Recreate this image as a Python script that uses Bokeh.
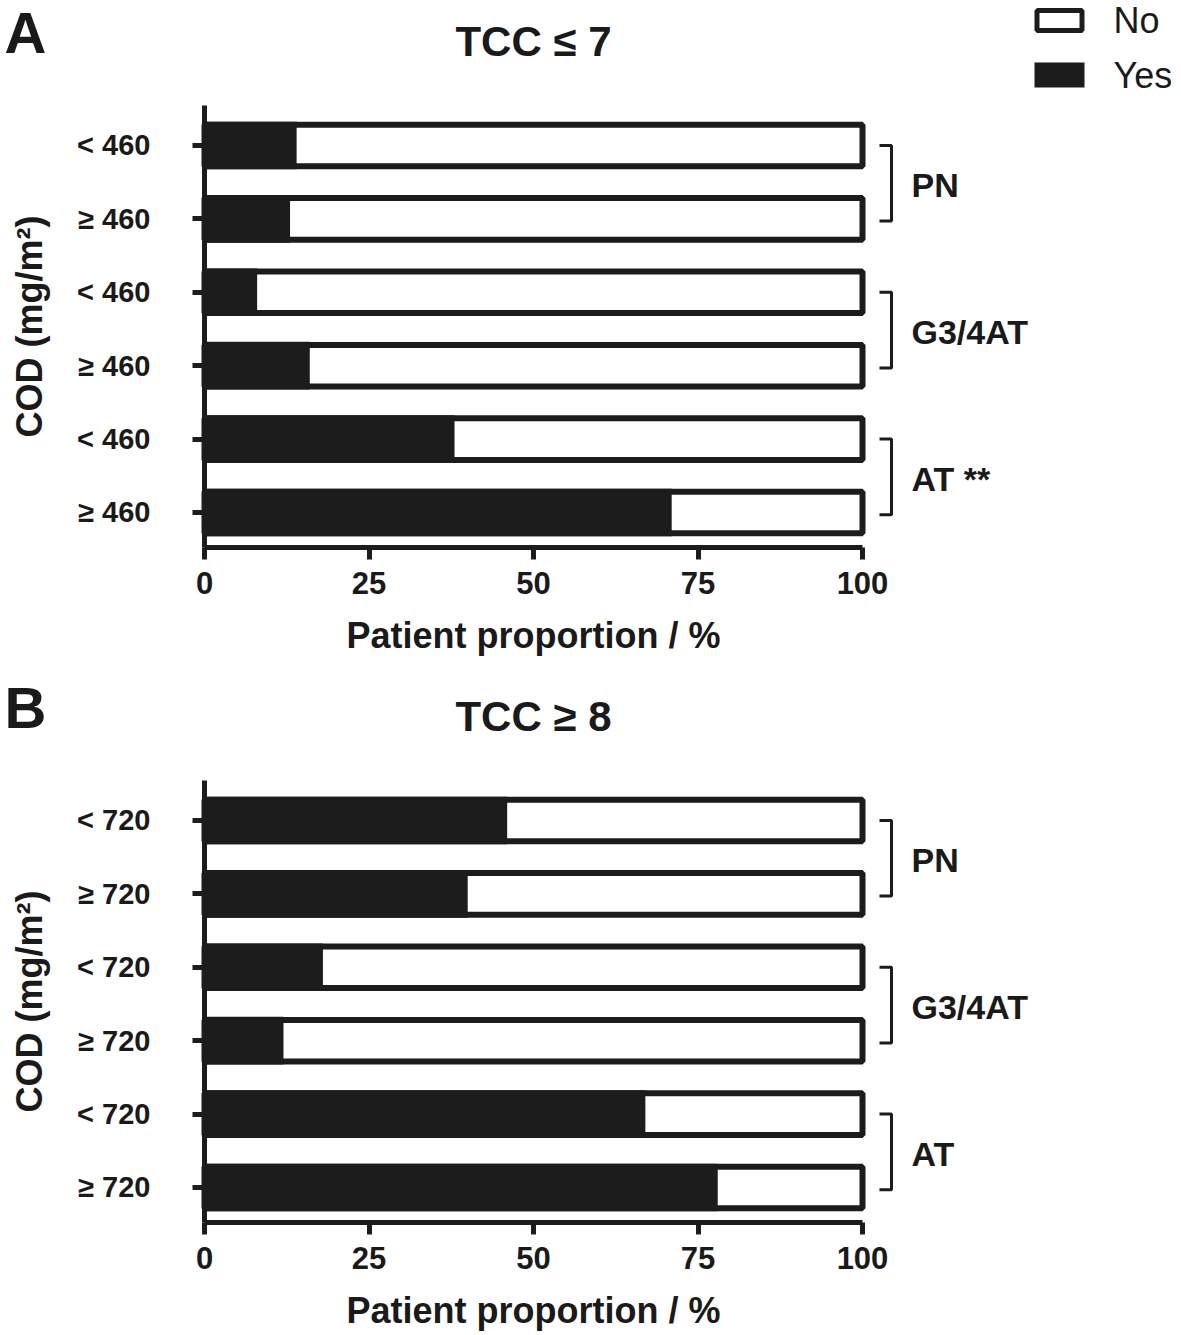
import math
from bokeh.plotting import figure
from bokeh.models import Label, Range1d, FixedTicker
from bokeh.layouts import column
from bokeh.embed import file_html
from bokeh.resources import INLINE

# ---------------- data ----------------
rows_a = ["< 460", "≥ 460", "< 460", "≥ 460", "< 460", "≥ 460"]
rows_b = ["< 720", "≥ 720", "< 720", "≥ 720", "< 720", "≥ 720"]
groups = ["PN", "PN", "G3/4AT", "G3/4AT", "AT", "AT"]
yes_a = [14, 13, 8, 16, 38, 71]      # % patients "Yes", TCC <= 7
yes_b = [46, 40, 18, 12, 67, 78]     # % patients "Yes", TCC >= 8
group_text_a = {"PN": "PN", "G3/4AT": "G3/4AT", "AT": "AT **"}
group_text_b = {"PN": "PN", "G3/4AT": "G3/4AT", "AT": "AT"}
x_ticks = [0, 25, 50, 75, 100]
titles = ["TCC ≤ 7", "TCC ≥ 8"]
letters = ["A", "B"]
legend_labels = ["No", "Yes"]
x_label = "Patient proportion / %"
y_label = "COD (mg/m²)"

# ---------------- layout / style ----------------
BLACK = "#1c1c1c"
TXT = "#1a1a1a"
FONT = "Liberation Sans"
W = 1181
AX_X = 204        # pixel x of the value 0
AX_Y = 547        # pixel y (panel-local) of the x axis
PX_X = 6.58       # pixels per percent
PX_Y = 73.4       # pixels per row
Y0 = 0.523        # data y of the x axis


def px2x(px):
    return (px - AX_X) / PX_X


def py2y(py):
    return Y0 + (AX_Y - py) / PX_Y


def make_panel(rows, yes, group_text, title, letter, height, legend):
    n = len(rows)
    ypos = [n - i for i in range(n)]
    p = figure(width=W, height=height,
               x_range=Range1d(px2x(0), px2x(W)), y_range=Range1d(py2y(height), py2y(0)),
               output_backend="svg", toolbar_location=None,
               min_border=0, min_border_left=0, min_border_right=0,
               min_border_top=0, min_border_bottom=0)
    p.outline_line_color = None
    p.grid.visible = False
    p.background_fill_color = "white"
    p.border_fill_color = "white"

    # bars
    p.hbar(y=ypos, left=0, right=100, height=0.567, fill_color="white",
           line_color=BLACK, line_width=6)
    p.hbar(y=ypos, left=0, right=yes, height=0.649, fill_color=BLACK, line_color=None)

    # axes (drawn at fixed data locations inside the canvas)
    xa = p.xaxis[0]
    xa.fixed_location = Y0
    xa.ticker = FixedTicker(ticks=x_ticks)
    xa.bounds = (0, 100)
    ya = p.yaxis[0]
    ya.fixed_location = 0
    ya.ticker = FixedTicker(ticks=ypos)
    ya.major_label_overrides = {y: r for y, r in zip(ypos, rows)}
    ya.bounds = (Y0, py2y(105))
    for ax in (xa, ya):
        ax.axis_line_width = 5
        ax.axis_line_color = BLACK
        ax.major_tick_line_width = 5
        ax.major_tick_line_color = BLACK
        ax.major_tick_out = 12
        ax.major_tick_in = 0
        ax.minor_tick_line_color = None
        ax.major_label_text_font = FONT
        ax.major_label_text_font_style = "bold"
        ax.major_label_text_color = TXT
    xa.major_label_text_font_size = "31px"
    xa.major_label_standoff = 12
    ya.major_label_text_font_size = "29px"
    ya.major_label_standoff = 42

    # axis titles
    p.add_layout(Label(x=50, y=py2y(635), text=x_label, text_font=FONT,
                       text_font_size="36px", text_font_style="bold", text_color=TXT,
                       text_align="center", text_baseline="middle"))
    p.add_layout(Label(x=px2x(29), y=py2y(326), text=y_label, text_font=FONT,
                       text_font_size="36px", text_font_style="bold", text_color=TXT,
                       text_align="center", text_baseline="middle", angle=math.pi / 2))

    # title and panel letter
    p.add_layout(Label(x=50, y=py2y(41), text=title, text_font=FONT,
                       text_font_size="42px", text_font_style="bold", text_color=TXT,
                       text_align="center", text_baseline="middle"))
    p.add_layout(Label(x=px2x(4), y=py2y(32), text=letter, text_font=FONT,
                       text_font_size="58px", text_font_style="bold", text_color=TXT,
                       text_align="left", text_baseline="middle"))

    # group brackets
    seen = []
    for g in groups:
        if g not in seen:
            seen.append(g)
    xv, xs = px2x(891), px2x(879)
    for g in seen:
        ys = [y for y, gg in zip(ypos, groups) if gg == g]
        yt, yb = max(ys), min(ys) - 0.03
        p.line(x=[xs, xv, xv, xs], y=[yt, yt, yb, yb], line_color=BLACK, line_width=3)
        p.add_layout(Label(x=px2x(911), y=(yt + yb) / 2 - 0.03, text=group_text[g],
                           text_font=FONT, text_font_size="34px", text_font_style="bold",
                           text_color=TXT, text_align="left", text_baseline="middle"))

    # legend
    if legend:
        cx = px2x(1059)
        p.rect(x=[cx], y=[py2y(20)], width=45, height=20, width_units="screen",
               height_units="screen", fill_color="white", line_color=BLACK, line_width=5)
        p.rect(x=[cx], y=[py2y(74.5)], width=50, height=25, width_units="screen",
               height_units="screen", fill_color=BLACK, line_color=None)
        for lab, py in zip(legend_labels, [20, 75]):
            p.add_layout(Label(x=px2x(1113), y=py2y(py), text=lab, text_font=FONT,
                               text_font_size="36px", text_color=TXT,
                               text_align="left", text_baseline="middle"))
    return p


pa = make_panel(rows_a, yes_a, group_text_a, titles[0], letters[0], 675, True)
pb = make_panel(rows_b, yes_b, group_text_b, titles[1], letters[1], 660, False)
layout = column(pa, pb)

open("out.html", "w").write(file_html(layout, INLINE))
